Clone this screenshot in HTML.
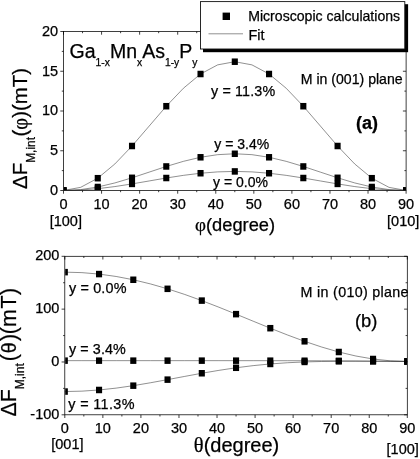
<!DOCTYPE html>
<html><head><meta charset="utf-8"><title>Figure</title>
<style>html,body{margin:0;padding:0;background:#fff}svg{display:block}text{font-family:'Liberation Sans', sans-serif;fill:#000;stroke:#000;stroke-width:0.25px}</style>
</head><body>
<svg width="420" height="459" viewBox="0 0 420 459">
<rect width="420" height="459" fill="#fff"/>
<rect x="63.5" y="31.5" width="342.6" height="159.0" fill="none" stroke="#000" stroke-width="0.75"/>
<line x1="63.50" y1="190.5" x2="63.50" y2="193.7" stroke="#000" stroke-width="0.75"/>
<line x1="63.50" y1="31.5" x2="63.50" y2="34.7" stroke="#000" stroke-width="0.75"/>
<text x="63.50" y="208.50" font-size="14.5" text-anchor="middle">0</text>
<line x1="82.53" y1="190.5" x2="82.53" y2="192.2" stroke="#000" stroke-width="0.75"/>
<line x1="82.53" y1="31.5" x2="82.53" y2="33.2" stroke="#000" stroke-width="0.75"/>
<line x1="101.57" y1="190.5" x2="101.57" y2="193.7" stroke="#000" stroke-width="0.75"/>
<line x1="101.57" y1="31.5" x2="101.57" y2="34.7" stroke="#000" stroke-width="0.75"/>
<text x="101.57" y="208.50" font-size="14.5" text-anchor="middle">10</text>
<line x1="120.60" y1="190.5" x2="120.60" y2="192.2" stroke="#000" stroke-width="0.75"/>
<line x1="120.60" y1="31.5" x2="120.60" y2="33.2" stroke="#000" stroke-width="0.75"/>
<line x1="139.63" y1="190.5" x2="139.63" y2="193.7" stroke="#000" stroke-width="0.75"/>
<line x1="139.63" y1="31.5" x2="139.63" y2="34.7" stroke="#000" stroke-width="0.75"/>
<text x="139.63" y="208.50" font-size="14.5" text-anchor="middle">20</text>
<line x1="158.67" y1="190.5" x2="158.67" y2="192.2" stroke="#000" stroke-width="0.75"/>
<line x1="158.67" y1="31.5" x2="158.67" y2="33.2" stroke="#000" stroke-width="0.75"/>
<line x1="177.70" y1="190.5" x2="177.70" y2="193.7" stroke="#000" stroke-width="0.75"/>
<line x1="177.70" y1="31.5" x2="177.70" y2="34.7" stroke="#000" stroke-width="0.75"/>
<text x="177.70" y="208.50" font-size="14.5" text-anchor="middle">30</text>
<line x1="196.73" y1="190.5" x2="196.73" y2="192.2" stroke="#000" stroke-width="0.75"/>
<line x1="196.73" y1="31.5" x2="196.73" y2="33.2" stroke="#000" stroke-width="0.75"/>
<line x1="215.77" y1="190.5" x2="215.77" y2="193.7" stroke="#000" stroke-width="0.75"/>
<line x1="215.77" y1="31.5" x2="215.77" y2="34.7" stroke="#000" stroke-width="0.75"/>
<text x="215.77" y="208.50" font-size="14.5" text-anchor="middle">40</text>
<line x1="234.80" y1="190.5" x2="234.80" y2="192.2" stroke="#000" stroke-width="0.75"/>
<line x1="234.80" y1="31.5" x2="234.80" y2="33.2" stroke="#000" stroke-width="0.75"/>
<line x1="253.83" y1="190.5" x2="253.83" y2="193.7" stroke="#000" stroke-width="0.75"/>
<line x1="253.83" y1="31.5" x2="253.83" y2="34.7" stroke="#000" stroke-width="0.75"/>
<text x="253.83" y="208.50" font-size="14.5" text-anchor="middle">50</text>
<line x1="272.87" y1="190.5" x2="272.87" y2="192.2" stroke="#000" stroke-width="0.75"/>
<line x1="272.87" y1="31.5" x2="272.87" y2="33.2" stroke="#000" stroke-width="0.75"/>
<line x1="291.90" y1="190.5" x2="291.90" y2="193.7" stroke="#000" stroke-width="0.75"/>
<line x1="291.90" y1="31.5" x2="291.90" y2="34.7" stroke="#000" stroke-width="0.75"/>
<text x="291.90" y="208.50" font-size="14.5" text-anchor="middle">60</text>
<line x1="310.93" y1="190.5" x2="310.93" y2="192.2" stroke="#000" stroke-width="0.75"/>
<line x1="310.93" y1="31.5" x2="310.93" y2="33.2" stroke="#000" stroke-width="0.75"/>
<line x1="329.97" y1="190.5" x2="329.97" y2="193.7" stroke="#000" stroke-width="0.75"/>
<line x1="329.97" y1="31.5" x2="329.97" y2="34.7" stroke="#000" stroke-width="0.75"/>
<text x="329.97" y="208.50" font-size="14.5" text-anchor="middle">70</text>
<line x1="349.00" y1="190.5" x2="349.00" y2="192.2" stroke="#000" stroke-width="0.75"/>
<line x1="349.00" y1="31.5" x2="349.00" y2="33.2" stroke="#000" stroke-width="0.75"/>
<line x1="368.03" y1="190.5" x2="368.03" y2="193.7" stroke="#000" stroke-width="0.75"/>
<line x1="368.03" y1="31.5" x2="368.03" y2="34.7" stroke="#000" stroke-width="0.75"/>
<text x="368.03" y="208.50" font-size="14.5" text-anchor="middle">80</text>
<line x1="387.07" y1="190.5" x2="387.07" y2="192.2" stroke="#000" stroke-width="0.75"/>
<line x1="387.07" y1="31.5" x2="387.07" y2="33.2" stroke="#000" stroke-width="0.75"/>
<line x1="406.10" y1="190.5" x2="406.10" y2="193.7" stroke="#000" stroke-width="0.75"/>
<line x1="406.10" y1="31.5" x2="406.10" y2="34.7" stroke="#000" stroke-width="0.75"/>
<text x="406.10" y="208.50" font-size="14.5" text-anchor="middle">90</text>
<line x1="60.3" y1="190.50" x2="63.5" y2="190.50" stroke="#000" stroke-width="0.75"/>
<line x1="402.90000000000003" y1="190.50" x2="406.1" y2="190.50" stroke="#000" stroke-width="0.75"/>
<text x="58.10" y="194.90" font-size="14.5" text-anchor="end">0</text>
<line x1="61.8" y1="170.62" x2="63.5" y2="170.62" stroke="#000" stroke-width="0.75"/>
<line x1="404.40000000000003" y1="170.62" x2="406.1" y2="170.62" stroke="#000" stroke-width="0.75"/>
<line x1="60.3" y1="150.75" x2="63.5" y2="150.75" stroke="#000" stroke-width="0.75"/>
<line x1="402.90000000000003" y1="150.75" x2="406.1" y2="150.75" stroke="#000" stroke-width="0.75"/>
<text x="58.10" y="155.15" font-size="14.5" text-anchor="end">5</text>
<line x1="61.8" y1="130.88" x2="63.5" y2="130.88" stroke="#000" stroke-width="0.75"/>
<line x1="404.40000000000003" y1="130.88" x2="406.1" y2="130.88" stroke="#000" stroke-width="0.75"/>
<line x1="60.3" y1="111.00" x2="63.5" y2="111.00" stroke="#000" stroke-width="0.75"/>
<line x1="402.90000000000003" y1="111.00" x2="406.1" y2="111.00" stroke="#000" stroke-width="0.75"/>
<text x="58.10" y="115.40" font-size="14.5" text-anchor="end">10</text>
<line x1="61.8" y1="91.12" x2="63.5" y2="91.12" stroke="#000" stroke-width="0.75"/>
<line x1="404.40000000000003" y1="91.12" x2="406.1" y2="91.12" stroke="#000" stroke-width="0.75"/>
<line x1="60.3" y1="71.25" x2="63.5" y2="71.25" stroke="#000" stroke-width="0.75"/>
<line x1="402.90000000000003" y1="71.25" x2="406.1" y2="71.25" stroke="#000" stroke-width="0.75"/>
<text x="58.10" y="75.65" font-size="14.5" text-anchor="end">15</text>
<line x1="61.8" y1="51.38" x2="63.5" y2="51.38" stroke="#000" stroke-width="0.75"/>
<line x1="404.40000000000003" y1="51.38" x2="406.1" y2="51.38" stroke="#000" stroke-width="0.75"/>
<line x1="60.3" y1="31.50" x2="63.5" y2="31.50" stroke="#000" stroke-width="0.75"/>
<line x1="402.90000000000003" y1="31.50" x2="406.1" y2="31.50" stroke="#000" stroke-width="0.75"/>
<text x="58.10" y="35.90" font-size="14.5" text-anchor="end">20</text>
<clipPath id="c1"><rect x="63.9" y="31.9" width="341.80" height="158.20"/></clipPath>
<clipPath id="c2"><rect x="65.2" y="256.7" width="341.70" height="157.70"/></clipPath>
<g>
<polyline points="63.50,190.50 80.63,187.35 97.76,178.20 114.89,163.96 132.02,146.00 149.15,126.11 166.28,106.21 183.41,88.25 200.54,74.01 217.67,64.86 234.80,61.71 251.93,64.86 269.06,74.01 286.19,88.25 303.32,106.21 320.45,126.10 337.58,146.00 354.71,163.96 371.84,178.20 388.97,187.35 406.10,190.50" fill="none" stroke="#222" stroke-width="0.5"/>
<polyline points="63.50,190.50 80.63,189.60 97.76,186.99 114.89,182.93 132.02,177.81 149.15,172.14 166.28,166.46 183.41,161.34 200.54,157.28 217.67,154.67 234.80,153.77 251.93,154.67 269.06,157.28 286.19,161.34 303.32,166.46 320.45,172.14 337.58,177.81 354.71,182.93 371.84,186.99 388.97,189.60 406.10,190.50" fill="none" stroke="#222" stroke-width="0.5"/>
<polyline points="63.50,190.50 80.63,190.03 97.76,188.68 114.89,186.57 132.02,183.91 149.15,180.96 166.28,178.01 183.41,175.35 200.54,173.24 217.67,171.89 234.80,171.42 251.93,171.89 269.06,173.24 286.19,175.35 303.32,178.01 320.45,180.96 337.58,183.91 354.71,186.57 371.84,188.68 388.97,190.03 406.10,190.50" fill="none" stroke="#222" stroke-width="0.5"/>
<g clip-path="url(#c1)">
<rect x="60.45" y="187.25" width="6.1" height="6.5" fill="#000"/>
<rect x="94.71" y="174.95" width="6.1" height="6.5" fill="#000"/>
<rect x="128.97" y="142.75" width="6.1" height="6.5" fill="#000"/>
<rect x="163.23" y="102.96" width="6.1" height="6.5" fill="#000"/>
<rect x="197.49" y="70.76" width="6.1" height="6.5" fill="#000"/>
<rect x="231.75" y="58.46" width="6.1" height="6.5" fill="#000"/>
<rect x="266.01" y="70.76" width="6.1" height="6.5" fill="#000"/>
<rect x="300.27" y="102.96" width="6.1" height="6.5" fill="#000"/>
<rect x="334.53" y="142.75" width="6.1" height="6.5" fill="#000"/>
<rect x="368.79" y="174.95" width="6.1" height="6.5" fill="#000"/>
<rect x="403.05" y="187.25" width="6.1" height="6.5" fill="#000"/>
</g>
<g clip-path="url(#c1)">
<rect x="60.45" y="187.25" width="6.1" height="6.5" fill="#000"/>
<rect x="94.71" y="183.74" width="6.1" height="6.5" fill="#000"/>
<rect x="128.97" y="174.56" width="6.1" height="6.5" fill="#000"/>
<rect x="163.23" y="163.21" width="6.1" height="6.5" fill="#000"/>
<rect x="197.49" y="154.03" width="6.1" height="6.5" fill="#000"/>
<rect x="231.75" y="150.52" width="6.1" height="6.5" fill="#000"/>
<rect x="266.01" y="154.03" width="6.1" height="6.5" fill="#000"/>
<rect x="300.27" y="163.21" width="6.1" height="6.5" fill="#000"/>
<rect x="334.53" y="174.56" width="6.1" height="6.5" fill="#000"/>
<rect x="368.79" y="183.74" width="6.1" height="6.5" fill="#000"/>
<rect x="403.05" y="187.25" width="6.1" height="6.5" fill="#000"/>
</g>
<g clip-path="url(#c1)">
<rect x="60.45" y="187.25" width="6.1" height="6.5" fill="#000"/>
<rect x="94.71" y="185.43" width="6.1" height="6.5" fill="#000"/>
<rect x="128.97" y="180.66" width="6.1" height="6.5" fill="#000"/>
<rect x="163.23" y="174.76" width="6.1" height="6.5" fill="#000"/>
<rect x="197.49" y="169.99" width="6.1" height="6.5" fill="#000"/>
<rect x="231.75" y="168.17" width="6.1" height="6.5" fill="#000"/>
<rect x="266.01" y="169.99" width="6.1" height="6.5" fill="#000"/>
<rect x="300.27" y="174.76" width="6.1" height="6.5" fill="#000"/>
<rect x="334.53" y="180.66" width="6.1" height="6.5" fill="#000"/>
<rect x="368.79" y="185.43" width="6.1" height="6.5" fill="#000"/>
<rect x="403.05" y="187.25" width="6.1" height="6.5" fill="#000"/>
</g>
</g>
<rect x="64.8" y="256.3" width="342.5" height="158.5" fill="none" stroke="#000" stroke-width="0.75"/>
<line x1="64.80" y1="414.8" x2="64.80" y2="418.0" stroke="#000" stroke-width="0.75"/>
<line x1="64.80" y1="256.3" x2="64.80" y2="259.5" stroke="#000" stroke-width="0.75"/>
<text x="64.80" y="432.80" font-size="14.5" text-anchor="middle">0</text>
<line x1="83.83" y1="414.8" x2="83.83" y2="416.5" stroke="#000" stroke-width="0.75"/>
<line x1="83.83" y1="256.3" x2="83.83" y2="258.0" stroke="#000" stroke-width="0.75"/>
<line x1="102.86" y1="414.8" x2="102.86" y2="418.0" stroke="#000" stroke-width="0.75"/>
<line x1="102.86" y1="256.3" x2="102.86" y2="259.5" stroke="#000" stroke-width="0.75"/>
<text x="102.86" y="432.80" font-size="14.5" text-anchor="middle">10</text>
<line x1="121.88" y1="414.8" x2="121.88" y2="416.5" stroke="#000" stroke-width="0.75"/>
<line x1="121.88" y1="256.3" x2="121.88" y2="258.0" stroke="#000" stroke-width="0.75"/>
<line x1="140.91" y1="414.8" x2="140.91" y2="418.0" stroke="#000" stroke-width="0.75"/>
<line x1="140.91" y1="256.3" x2="140.91" y2="259.5" stroke="#000" stroke-width="0.75"/>
<text x="140.91" y="432.80" font-size="14.5" text-anchor="middle">20</text>
<line x1="159.94" y1="414.8" x2="159.94" y2="416.5" stroke="#000" stroke-width="0.75"/>
<line x1="159.94" y1="256.3" x2="159.94" y2="258.0" stroke="#000" stroke-width="0.75"/>
<line x1="178.97" y1="414.8" x2="178.97" y2="418.0" stroke="#000" stroke-width="0.75"/>
<line x1="178.97" y1="256.3" x2="178.97" y2="259.5" stroke="#000" stroke-width="0.75"/>
<text x="178.97" y="432.80" font-size="14.5" text-anchor="middle">30</text>
<line x1="197.99" y1="414.8" x2="197.99" y2="416.5" stroke="#000" stroke-width="0.75"/>
<line x1="197.99" y1="256.3" x2="197.99" y2="258.0" stroke="#000" stroke-width="0.75"/>
<line x1="217.02" y1="414.8" x2="217.02" y2="418.0" stroke="#000" stroke-width="0.75"/>
<line x1="217.02" y1="256.3" x2="217.02" y2="259.5" stroke="#000" stroke-width="0.75"/>
<text x="217.02" y="432.80" font-size="14.5" text-anchor="middle">40</text>
<line x1="236.05" y1="414.8" x2="236.05" y2="416.5" stroke="#000" stroke-width="0.75"/>
<line x1="236.05" y1="256.3" x2="236.05" y2="258.0" stroke="#000" stroke-width="0.75"/>
<line x1="255.08" y1="414.8" x2="255.08" y2="418.0" stroke="#000" stroke-width="0.75"/>
<line x1="255.08" y1="256.3" x2="255.08" y2="259.5" stroke="#000" stroke-width="0.75"/>
<text x="255.08" y="432.80" font-size="14.5" text-anchor="middle">50</text>
<line x1="274.11" y1="414.8" x2="274.11" y2="416.5" stroke="#000" stroke-width="0.75"/>
<line x1="274.11" y1="256.3" x2="274.11" y2="258.0" stroke="#000" stroke-width="0.75"/>
<line x1="293.13" y1="414.8" x2="293.13" y2="418.0" stroke="#000" stroke-width="0.75"/>
<line x1="293.13" y1="256.3" x2="293.13" y2="259.5" stroke="#000" stroke-width="0.75"/>
<text x="293.13" y="432.80" font-size="14.5" text-anchor="middle">60</text>
<line x1="312.16" y1="414.8" x2="312.16" y2="416.5" stroke="#000" stroke-width="0.75"/>
<line x1="312.16" y1="256.3" x2="312.16" y2="258.0" stroke="#000" stroke-width="0.75"/>
<line x1="331.19" y1="414.8" x2="331.19" y2="418.0" stroke="#000" stroke-width="0.75"/>
<line x1="331.19" y1="256.3" x2="331.19" y2="259.5" stroke="#000" stroke-width="0.75"/>
<text x="331.19" y="432.80" font-size="14.5" text-anchor="middle">70</text>
<line x1="350.22" y1="414.8" x2="350.22" y2="416.5" stroke="#000" stroke-width="0.75"/>
<line x1="350.22" y1="256.3" x2="350.22" y2="258.0" stroke="#000" stroke-width="0.75"/>
<line x1="369.24" y1="414.8" x2="369.24" y2="418.0" stroke="#000" stroke-width="0.75"/>
<line x1="369.24" y1="256.3" x2="369.24" y2="259.5" stroke="#000" stroke-width="0.75"/>
<text x="369.24" y="432.80" font-size="14.5" text-anchor="middle">80</text>
<line x1="388.27" y1="414.8" x2="388.27" y2="416.5" stroke="#000" stroke-width="0.75"/>
<line x1="388.27" y1="256.3" x2="388.27" y2="258.0" stroke="#000" stroke-width="0.75"/>
<line x1="407.30" y1="414.8" x2="407.30" y2="418.0" stroke="#000" stroke-width="0.75"/>
<line x1="407.30" y1="256.3" x2="407.30" y2="259.5" stroke="#000" stroke-width="0.75"/>
<text x="407.30" y="432.80" font-size="14.5" text-anchor="middle">90</text>
<line x1="61.599999999999994" y1="414.80" x2="64.8" y2="414.80" stroke="#000" stroke-width="0.75"/>
<line x1="404.1" y1="414.80" x2="407.3" y2="414.80" stroke="#000" stroke-width="0.75"/>
<text x="59.40" y="418.60" font-size="14.5" text-anchor="end">-100</text>
<line x1="63.099999999999994" y1="388.38" x2="64.8" y2="388.38" stroke="#000" stroke-width="0.75"/>
<line x1="405.6" y1="388.38" x2="407.3" y2="388.38" stroke="#000" stroke-width="0.75"/>
<line x1="61.599999999999994" y1="361.97" x2="64.8" y2="361.97" stroke="#000" stroke-width="0.75"/>
<line x1="404.1" y1="361.97" x2="407.3" y2="361.97" stroke="#000" stroke-width="0.75"/>
<text x="59.40" y="365.77" font-size="14.5" text-anchor="end">0</text>
<line x1="63.099999999999994" y1="335.55" x2="64.8" y2="335.55" stroke="#000" stroke-width="0.75"/>
<line x1="405.6" y1="335.55" x2="407.3" y2="335.55" stroke="#000" stroke-width="0.75"/>
<line x1="61.599999999999994" y1="309.13" x2="64.8" y2="309.13" stroke="#000" stroke-width="0.75"/>
<line x1="404.1" y1="309.13" x2="407.3" y2="309.13" stroke="#000" stroke-width="0.75"/>
<text x="59.40" y="312.93" font-size="14.5" text-anchor="end">100</text>
<line x1="63.099999999999994" y1="282.72" x2="64.8" y2="282.72" stroke="#000" stroke-width="0.75"/>
<line x1="405.6" y1="282.72" x2="407.3" y2="282.72" stroke="#000" stroke-width="0.75"/>
<line x1="61.599999999999994" y1="256.30" x2="64.8" y2="256.30" stroke="#000" stroke-width="0.75"/>
<line x1="404.1" y1="256.30" x2="407.3" y2="256.30" stroke="#000" stroke-width="0.75"/>
<text x="59.40" y="260.10" font-size="14.5" text-anchor="end">200</text>
<polyline points="64.80,272.15 81.92,272.63 99.05,274.08 116.17,276.47 133.30,279.76 150.43,283.91 167.55,288.82 184.68,294.43 201.80,300.61 218.93,307.23 236.05,314.15 253.18,321.20 270.30,328.20 287.43,334.96 304.55,341.31 321.68,347.04 338.80,352.00 355.93,356.03 373.05,359.00 390.18,360.82 407.30,361.44" fill="none" stroke="#222" stroke-width="0.5"/>
<polyline points="64.80,360.65 81.92,360.65 99.05,360.65 116.17,360.65 133.30,360.65 150.43,360.65 167.55,360.65 184.68,360.65 201.80,360.65 218.93,360.65 236.05,360.66 253.18,360.67 270.30,360.68 287.43,360.71 304.55,360.74 321.68,360.79 338.80,360.85 355.93,360.94 373.05,361.07 390.18,361.23 407.30,361.44" fill="none" stroke="#222" stroke-width="0.5"/>
<polyline points="64.80,391.55 81.92,391.15 99.05,389.98 116.17,388.12 133.30,385.67 150.43,382.78 167.55,379.64 184.68,376.41 201.80,373.26 218.93,370.35 236.05,367.78 253.18,365.64 270.30,363.96 287.43,362.74 304.55,361.94 321.68,361.49 338.80,361.30 355.93,361.28 373.05,361.34 390.18,361.41 407.30,361.44" fill="none" stroke="#222" stroke-width="0.5"/>
<g clip-path="url(#c2)">
<rect x="61.75" y="268.90" width="6.1" height="6.5" fill="#000"/>
<rect x="96.00" y="270.83" width="6.1" height="6.5" fill="#000"/>
<rect x="130.25" y="276.51" width="6.1" height="6.5" fill="#000"/>
<rect x="164.50" y="285.57" width="6.1" height="6.5" fill="#000"/>
<rect x="198.75" y="297.36" width="6.1" height="6.5" fill="#000"/>
<rect x="233.00" y="310.90" width="6.1" height="6.5" fill="#000"/>
<rect x="267.25" y="324.95" width="6.1" height="6.5" fill="#000"/>
<rect x="301.50" y="338.06" width="6.1" height="6.5" fill="#000"/>
<rect x="335.75" y="348.75" width="6.1" height="6.5" fill="#000"/>
<rect x="370.00" y="355.75" width="6.1" height="6.5" fill="#000"/>
<rect x="404.25" y="358.19" width="6.1" height="6.5" fill="#000"/>
</g>
<g clip-path="url(#c2)">
<rect x="61.75" y="357.40" width="6.1" height="6.5" fill="#000"/>
<rect x="96.00" y="357.40" width="6.1" height="6.5" fill="#000"/>
<rect x="130.25" y="357.40" width="6.1" height="6.5" fill="#000"/>
<rect x="164.50" y="357.40" width="6.1" height="6.5" fill="#000"/>
<rect x="198.75" y="357.40" width="6.1" height="6.5" fill="#000"/>
<rect x="233.00" y="357.41" width="6.1" height="6.5" fill="#000"/>
<rect x="267.25" y="357.43" width="6.1" height="6.5" fill="#000"/>
<rect x="301.50" y="357.49" width="6.1" height="6.5" fill="#000"/>
<rect x="335.75" y="357.60" width="6.1" height="6.5" fill="#000"/>
<rect x="370.00" y="357.82" width="6.1" height="6.5" fill="#000"/>
<rect x="404.25" y="358.19" width="6.1" height="6.5" fill="#000"/>
</g>
<g clip-path="url(#c2)">
<rect x="61.75" y="388.30" width="6.1" height="6.5" fill="#000"/>
<rect x="96.00" y="386.73" width="6.1" height="6.5" fill="#000"/>
<rect x="130.25" y="382.42" width="6.1" height="6.5" fill="#000"/>
<rect x="164.50" y="376.39" width="6.1" height="6.5" fill="#000"/>
<rect x="198.75" y="370.01" width="6.1" height="6.5" fill="#000"/>
<rect x="233.00" y="364.53" width="6.1" height="6.5" fill="#000"/>
<rect x="267.25" y="360.71" width="6.1" height="6.5" fill="#000"/>
<rect x="301.50" y="358.69" width="6.1" height="6.5" fill="#000"/>
<rect x="335.75" y="358.05" width="6.1" height="6.5" fill="#000"/>
<rect x="370.00" y="358.09" width="6.1" height="6.5" fill="#000"/>
<rect x="404.25" y="358.19" width="6.1" height="6.5" fill="#000"/>
</g>
<rect x="203" y="4.2" width="205.1" height="48" fill="#000"/>
<rect x="200.5" y="1.6" width="204.3" height="47.4" fill="#fff" stroke="#111" stroke-width="0.9"/>
<rect x="222.6" y="12.6" width="7.4" height="7.4" fill="#000"/>
<line x1="208.5" y1="33.8" x2="243" y2="33.8" stroke="#222" stroke-width="0.5"/>
<text x="248.2" y="20.7" font-size="14.1">Microscopic calculations</text>
<text x="248.4" y="40.3" font-size="14.4">Fit</text>
<text x="69.6" y="58" font-size="19.5">Ga<tspan font-size="10.3" dy="7.8">1-x</tspan><tspan dy="-7.8">Mn</tspan><tspan font-size="10.3" dy="7.8">x</tspan><tspan dy="-7.8">As</tspan><tspan font-size="10.3" dy="7.8">1-y</tspan><tspan dy="-7.8">P</tspan><tspan font-size="10.3" dy="7.8">y</tspan></text>
<text x="300.8" y="84" font-size="14.1">M in (001) plane</text>
<text x="356" y="129.2" font-size="18" font-weight="bold">(a)</text>
<text x="211" y="96.3" font-size="14.3" letter-spacing="0.15">y = 11.3%</text>
<text x="214.3" y="149" font-size="14">y = 3.4%</text>
<text x="213" y="187" font-size="14">y = 0.0%</text>
<text x="65.8" y="226.3" font-size="14.5" text-anchor="middle">[100]</text>
<text x="419.3" y="226.3" font-size="14.5" text-anchor="end">[010]</text>
<text x="195" y="231.3" font-size="18.3"><tspan font-family="'Liberation Serif', 'DejaVu Serif', serif" font-size="19">φ</tspan>(degree)</text>
<text transform="translate(27.2,188.9) rotate(-90)" font-size="20.4">ΔF<tspan font-size="11.9" dy="7.5">M,int</tspan><tspan dy="-7.5" dx="0.6">(</tspan><tspan font-family="'Liberation Serif', 'DejaVu Serif', serif" font-size="20.4" dx="0">φ</tspan><tspan dx="0">)</tspan><tspan dx="0">(</tspan><tspan dx="0">m</tspan><tspan dx="0">T</tspan><tspan dx="0">)</tspan></text>
<text x="300.6" y="297.4" font-size="14.3" letter-spacing="0.3">M in (010) plane</text>
<text x="355" y="326.8" font-size="18.4">(b)</text>
<text x="69" y="292.6" font-size="14.4" letter-spacing="0.15">y = 0.0%</text>
<text x="69" y="353.9" font-size="14.3" letter-spacing="0.1">y = 3.4%</text>
<text x="68.3" y="408.8" font-size="14.4" letter-spacing="0.35">y = 11.3%</text>
<text x="67.4" y="448.6" font-size="14.5" text-anchor="middle">[001]</text>
<text x="418.8" y="454" font-size="14.5" text-anchor="end">[100]</text>
<text x="193.8" y="452.2" font-size="20"><tspan font-family="'Liberation Serif', 'DejaVu Serif', serif" font-size="20.5">θ</tspan>(degree)</text>
<text transform="translate(16.4,416.5) rotate(-90)" font-size="21.3">ΔF<tspan font-size="12.0" dy="7.5">M,int</tspan><tspan dy="-7.5" dx="2.1">(</tspan><tspan font-family="'Liberation Sans', sans-serif" font-size="19.7" dx="0.7">θ</tspan><tspan dx="1.45">)</tspan><tspan dx="-0.4">(</tspan><tspan dx="0.1">m</tspan><tspan dx="0.8">T</tspan><tspan dx="0.5">)</tspan></text>
</svg></body></html>
